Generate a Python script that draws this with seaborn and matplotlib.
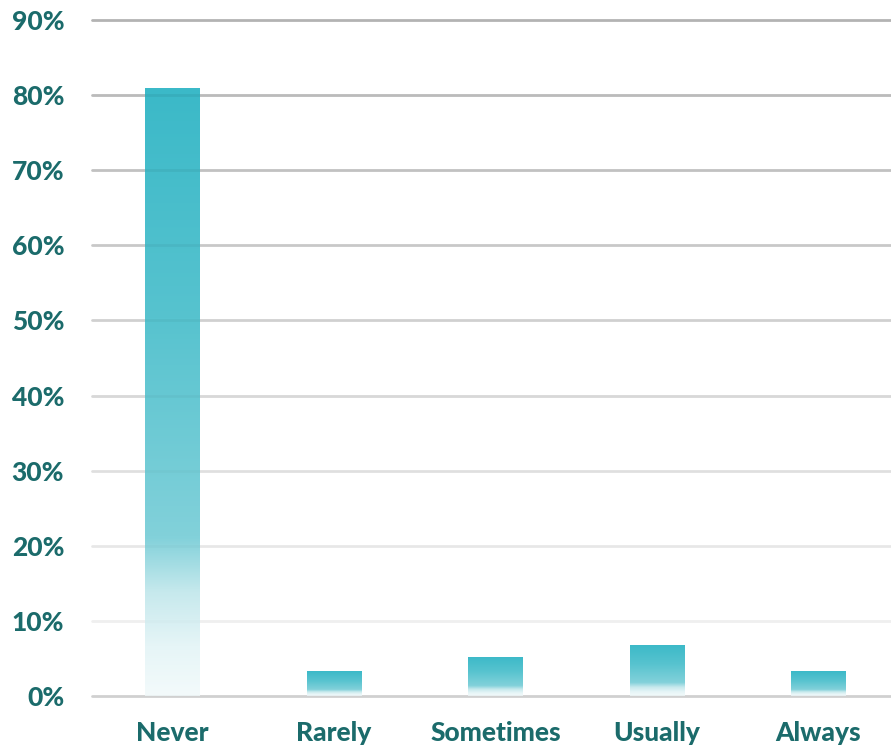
import numpy as np
import pandas as pd
import matplotlib
matplotlib.use("Agg")
import matplotlib.pyplot as plt
from matplotlib.colors import LinearSegmentedColormap
import seaborn as sns

categories = ["Never", "Rarely", "Sometimes", "Usually", "Always"]
values = [81.0, 3.3, 5.2, 6.8, 3.3]
yticks = [0, 10, 20, 30, 40, 50, 60, 70, 80, 90]
ytick_labels = [f"{t}%" for t in yticks]

df = pd.DataFrame({"category": categories, "value": values})

sns.set_theme(style="white")
plt.rcParams["font.family"] = ["Lato", "DejaVu Sans"]

text_color = "#1B6B6B"
fig = plt.figure(figsize=(8.91, 7.45), dpi=100)
ax = fig.add_axes([92 / 891, 1 - 696 / 745, 1 - 92 / 891, (696 - 20) / 745])

sns.barplot(data=df, x="category", y="value", ax=ax, width=0.34,
            color="#3BB9C8", saturation=1, zorder=2)

cmap = LinearSegmentedColormap.from_list(
    "grad",
    [(0.0, "#3BB9C8"), (0.38, "#57C3CF"), (0.74, "#82D1DA"),
     (0.83, "#C6E9ED"), (0.92, "#E6F5F7"), (1.0, "#F3FAFB")])
grad = np.linspace(0, 1, 256).reshape(-1, 1)
for p in ax.patches:
    x0, y0 = p.get_x(), p.get_y()
    w, h = p.get_width(), p.get_height()
    im = ax.imshow(grad, cmap=cmap, aspect="auto",
                   extent=[x0, x0 + w, y0, y0 + h], origin="upper", zorder=2)
    im.set_clip_path(p)
    p.set_facecolor("none")
    p.set_edgecolor("none")

ax.set_xlim(-0.5, 4.45)
ax.set_ylim(0, 90)

# gridlines with fading intensity (behind), plus a faint overlay on bars
for t in yticks:
    if t == 0:
        a = 0.15
    else:
        a = 0.05 + 0.20 * (t - 10) / 80
    ax.axhline(t, color="black", alpha=a, lw=2, zorder=1, clip_on=False)
    ax.axhline(t, color="black", alpha=a * 0.25, lw=2, zorder=3, clip_on=False)

ax.set_yticks(yticks)
ax.set_yticklabels(ytick_labels)
ax.set_xlabel("")
ax.set_ylabel("")
for s in ax.spines.values():
    s.set_visible(False)
ax.tick_params(axis="both", length=0, labelsize=19, labelcolor=text_color)
ax.tick_params(axis="x", pad=18)
ax.tick_params(axis="y", pad=20)
for lab in ax.get_xticklabels() + ax.get_yticklabels():
    lab.set_fontweight(900)
ax.set_facecolor("white")
ax.grid(False)

fig.savefig("out.png", dpi=100, facecolor="white")
